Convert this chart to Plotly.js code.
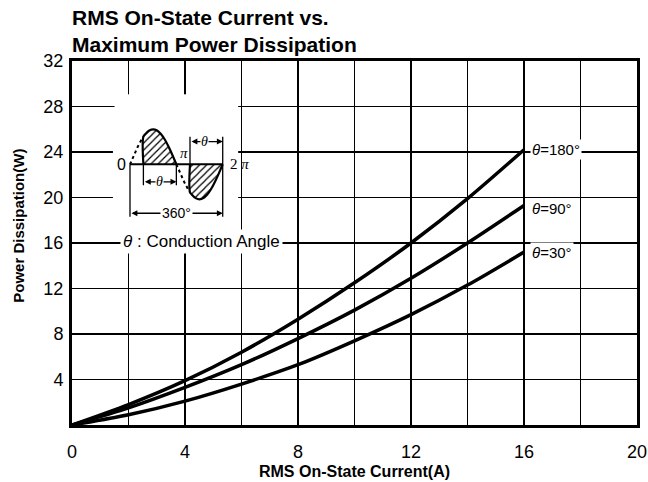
<!DOCTYPE html>
<html>
<head>
<meta charset="utf-8">
<script src="https://cdn.plot.ly/plotly-3.0.1.min.js"></script>
<style>html,body{margin:0;padding:0;background:#fff;}#chart{width:648px;height:482px;}</style>
</head>
<body>
<div id="chart"></div>
<script>
// ---- chart data ----
const current = [0, 2, 4, 6, 8, 10, 12, 14, 16];          // RMS On-State Current (A)
const power180 = [0, 1.8, 3.9, 6.4, 9.3, 12.5, 16.0, 19.9, 24.2]; // theta = 180°
const power90  = [0, 1.5, 3.3, 5.3, 7.6, 10.1, 12.9, 16.0, 19.3]; // theta = 90°
const power30  = [0, 0.9, 2.1, 3.6, 5.3, 7.4, 9.7, 12.3, 15.2];   // theta = 30°
const seriesNames = ['θ=180°', 'θ=90°', 'θ=30°'];
const xTickVals = [0, 2, 4, 6, 8, 10, 12, 14, 16, 18, 20];
const xTickText = ['0', '', '4', '', '8', '', '12', '', '16', '', '20'];
const yTickVals = [0, 4, 8, 12, 16, 20, 24, 28, 32];
const yTickText = ['', '4', '8', '12', '16', '20', '24', '28', '32'];

// ---- inset schematic (conduction-angle waveform), phase in degrees ----
const dashPosX = [0, 15, 30, 45, 52];
const dashPosY = [0, 0.259, 0.5, 0.707, 0.788];
const lobePosX = [52, 52, 60, 75, 90, 105, 120, 135, 150, 165, 180];
const lobePosY = [0, 0.788, 0.866, 0.966, 1, 0.966, 0.866, 0.707, 0.5, 0.259, 0];
const dashNegX = [180, 195, 210, 225, 233];
const dashNegY = [0, -0.259, -0.5, -0.707, -0.799];
const lobeNegX = [233, 233, 240, 255, 270, 285, 300, 315, 330, 345, 360];
const lobeNegY = [0, -0.799, -0.866, -0.966, -1, -0.966, -0.866, -0.707, -0.5, -0.259, 0];

const FONT = 'Liberation Sans, Arial, Helvetica, sans-serif';
const SERIF = 'Liberation Serif, Times New Roman, serif';

const curveLine = {color: '#000', width: 3.5, shape: 'spline', smoothing: 0.8};
const traces = [
  {x: current, y: power180, name: seriesNames[0], mode: 'lines', line: curveLine, xaxis: 'x', yaxis: 'y', hoverinfo: 'skip'},
  {x: current, y: power90,  name: seriesNames[1], mode: 'lines', line: curveLine, xaxis: 'x', yaxis: 'y', hoverinfo: 'skip'},
  {x: current, y: power30,  name: seriesNames[2], mode: 'lines', line: curveLine, xaxis: 'x', yaxis: 'y', hoverinfo: 'skip'},
  // inset
  {x: dashPosX, y: dashPosY, mode: 'lines', line: {color: '#000', width: 2, dash: '3px,3px'}, xaxis: 'x2', yaxis: 'y2', hoverinfo: 'skip'},
  {x: dashNegX, y: dashNegY, mode: 'lines', line: {color: '#000', width: 2, dash: '3px,3px'}, xaxis: 'x2', yaxis: 'y2', hoverinfo: 'skip'},
  {x: lobePosX, y: lobePosY, mode: 'lines', fill: 'toself', fillcolor: 'white',
   fillpattern: {shape: '/', fgcolor: '#000', bgcolor: '#fff', size: 5, solidity: 0.25},
   line: {color: '#000', width: 2.2, shape: 'spline'}, xaxis: 'x2', yaxis: 'y2', hoverinfo: 'skip'},
  {x: lobeNegX, y: lobeNegY, mode: 'lines', fill: 'toself', fillcolor: 'white',
   fillpattern: {shape: '/', fgcolor: '#000', bgcolor: '#fff', size: 5, solidity: 0.25},
   line: {color: '#000', width: 2.2, shape: 'spline'}, xaxis: 'x2', yaxis: 'y2', hoverinfo: 'skip'}
];

function vline(x, y0, y1) {
  return {type: 'line', xref: 'x2', yref: 'y2', x0: x, x1: x, y0: y0, y1: y1, line: {color: '#000', width: 1.3}, layer: 'above'};
}
function dimArrow(x0, x1, y) {
  return {x: x1, y: y, ax: x0, ay: y, xref: 'x2', yref: 'y2', axref: 'x2', ayref: 'y2',
          text: '', showarrow: true, arrowhead: 2, arrowside: 'end+start', arrowsize: 0.9, arrowwidth: 1.3, arrowcolor: '#000'};
}
function insetLabel(x, y, text, opts) {
  return Object.assign({x: x, y: y, xref: 'x2', yref: 'y2', text: text, showarrow: false,
    font: {family: FONT, size: 14, color: '#000'}}, opts || {});
}

const layout = {
  width: 648, height: 482,
  margin: {l: 72, r: 11, t: 61, b: 57},
  paper_bgcolor: '#fff', plot_bgcolor: '#fff',
  showlegend: false,
  font: {family: FONT, color: '#000'},
  title: {
    text: 'RMS On-State Current vs.<br>Maximum Power Dissipation',
    xref: 'paper', x: 0, xanchor: 'left',
    yref: 'container', y: 0.948, yanchor: 'top',
    font: {family: FONT, size: 21, weight: 'bold', color: '#000'}
  },
  xaxis: {
    range: [0, 20], tickmode: 'array', tickvals: xTickVals, ticktext: xTickText,
    showgrid: true, gridcolor: '#000', gridwidth: 1.4, zeroline: false,
    showline: true, mirror: true, linecolor: '#000', linewidth: 3,
    ticks: '', ticklabelstandoff: 8,
    tickfont: {family: FONT, size: 18, color: '#000'},
    title: {text: 'RMS On-State Current(A)', standoff: 6, font: {family: FONT, size: 16, weight: 'bold', color: '#000'}},
    fixedrange: true
  },
  yaxis: {
    range: [0, 32], tickmode: 'array', tickvals: yTickVals, ticktext: yTickText,
    showgrid: true, gridcolor: '#000', gridwidth: 1.4, zeroline: false,
    showline: true, mirror: true, linecolor: '#000', linewidth: 3,
    ticks: '', ticklabelstandoff: 2,
    tickfont: {family: FONT, size: 18, color: '#000'},
    fixedrange: true
  },
  xaxis2: {domain: [0.0753, 0.2941], range: [-60, 420], visible: false, anchor: 'y2', fixedrange: true},
  yaxis2: {domain: [0.524, 0.9085], range: [-2, 2], visible: false, anchor: 'x2', fixedrange: true},
  shapes: [
    // white patch behind the inset (gridlines interrupted)
    {type: 'rect', xref: 'x', yref: 'y', x0: 1.45, x1: 5.66, y0: 17.0, y1: 27.7,
     fillcolor: '#fff', line: {width: 0}, layer: 'between'},
    // inset baseline
    {type: 'line', xref: 'x2', yref: 'y2', x0: 0, x1: 360, y0: 0, y1: 0, line: {color: '#000', width: 2}, layer: 'above'},
    vline(0, 0, -1.5),
    vline(360, 0.79, -1.5),
    vline(233, 0.79, 0),
    vline(52, 0, -0.6),
    vline(180, 0, -0.6)
  ],
  annotations: [
    // y axis title
    {xref: 'paper', yref: 'paper', x: -0.094, y: 0.547, text: 'Power Dissipation(W)', textangle: -90,
     showarrow: false, xanchor: 'center', yanchor: 'middle',
     font: {family: FONT, size: 15, weight: 'bold', color: '#000'}},
    // curve labels
    {xref: 'x', yref: 'y', x: 16.2, y: power180[8], text: '<i>θ</i>=180°', showarrow: false, xanchor: 'left', yanchor: 'middle',
     bgcolor: '#fff', borderpad: 1, font: {family: FONT, size: 15, color: '#000'}},
    {xref: 'x', yref: 'y', x: 16.2, y: power90[8] - 0.3, text: '<i>θ</i>=90°', showarrow: false, xanchor: 'left', yanchor: 'middle',
     bgcolor: '#fff', borderpad: 1, font: {family: FONT, size: 15, color: '#000'}},
    {xref: 'x', yref: 'y', x: 16.2, y: power30[8], text: '<i>θ</i>=30°', showarrow: false, xanchor: 'left', yanchor: 'middle',
     bgcolor: '#fff', borderpad: 1, font: {family: FONT, size: 15, color: '#000'}},
    // conduction angle caption
    {xref: 'x', yref: 'y', x: 4.6, y: 16.1, text: '<i>θ</i> : Conduction Angle', showarrow: false,
     xanchor: 'center', yanchor: 'middle', bgcolor: '#fff', borderpad: 2,
     font: {family: FONT, size: 17, color: '#000'}},
    // inset dimension arrows
    dimArrow(52, 180, -0.5),
    dimArrow(233, 360, 0.65),
    dimArrow(0, 360, -1.4),
    insetLabel(116, -0.5, '<i>θ</i>', {bgcolor: '#fff', borderpad: 0, font: {family: SERIF, size: 14, color: '#000'}}),
    insetLabel(289, 0.65, '<i>θ</i>', {bgcolor: '#fff', borderpad: 0, font: {family: SERIF, size: 14, color: '#000'}}),
    insetLabel(181, -1.4, '360°', {bgcolor: '#fff', borderpad: 1, font: {family: FONT, size: 14, color: '#000'}}),
    insetLabel(-8, 0, '0', {xanchor: 'right', font: {family: FONT, size: 16, color: '#000'}}),
    insetLabel(186, 0.32, '<i>π</i>', {xanchor: 'left', font: {family: SERIF, size: 15, color: '#000'}}),
    insetLabel(380, 0, '2 <i>π</i>', {xanchor: 'left', font: {family: SERIF, size: 15, color: '#000'}})
  ]
};

Plotly.newPlot('chart', traces, layout, {staticPlot: true, displayModeBar: false});
</script>
</body>
</html>
